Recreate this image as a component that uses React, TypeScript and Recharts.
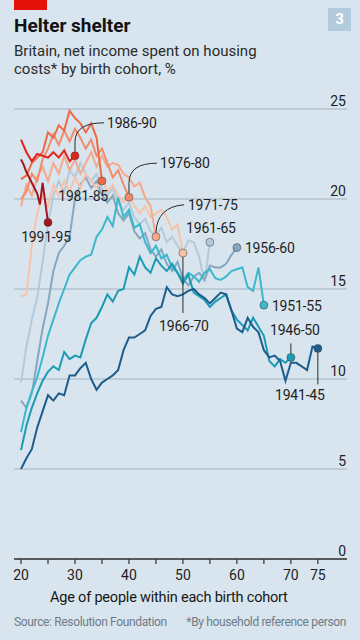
import { CartesianGrid, Line, LineChart, XAxis, YAxis } from 'recharts'

const FIRST_AGE = 20
const AGE_TICKS = [20, 25, 30, 35, 40, 45, 50, 55, 60, 65, 70, 75]
const AGE_LABELS = [20, 30, 40, 50, 60, 70, 75]
const SHARE_TICKS = [0, 5, 10, 15, 20, 25]

const ages1991_95 = [20, 20.5, 21, 21.5, 22, 22.5, 23, 23.5, 24, 24.5, 25]
const share1991_95 = [22.2, 21.9, 21.5, 21.2, 20.9, 20.6, 20.3, 19.7, 20.9, 19.8, 18.7]
const share1986_90 = [23.3, 22.6, 22.1, 22.5, 22.4, 22.3, 22.6, 22.3, 22.7, 22.1, 22.4]
const share1981_85 = [21.1, 21.3, 22.0, 22.3, 22.6, 23.7, 23.4, 24.1, 23.8, 24.9, 24.5, 24.2, 23.7, 24.2, 23.4, 21.0]
const share1976_80 = [
  20.0, 20.4, 21.4, 21.0, 22.2, 22.8, 23.6, 23.0, 23.8, 23.2, 23.9, 23.4, 22.8, 23.3, 22.4, 22.8, 22.0, 21.2, 21.6,
  20.8, 20.1,
]
const share1971_75 = [
  19.6, 20.8, 20.2, 21.2, 21.8, 21.0, 22.0, 21.4, 22.4, 21.6, 22.2, 21.4, 22.0, 22.6, 21.8, 22.4, 21.8, 22.0, 21.9,
  21.4, 21.2, 20.7, 20.9, 20.1, 19.6, 17.9,
]
const share1966_70 = [
  14.6, 14.7, 17.4, 19.2, 20.2, 19.6, 20.8, 20.2, 21.0, 20.4, 21.2, 20.6, 21.4, 21.0, 20.6, 21.2, 20.4, 20.8, 20.2,
  19.8, 20.2, 19.6, 19.2, 19.6, 19.0, 19.2, 19.4, 19.0, 18.3, 18.6, 17.0,
]
const share1961_65 = [
  9.8, 11.8, 13.3, 14.5, 16.5, 18.6, 20.2, 21.0, 20.4, 21.6, 21.2, 22.0, 21.4, 21.0, 21.4, 20.6, 20.2, 20.6, 19.8,
  19.4, 19.8, 19.0, 18.6, 18.9, 18.2, 18.0, 18.4, 17.6, 17.9, 17.4, 17.0, 17.7, 17.6, 16.8, 15.4, 17.6,
]
const share1956_60 = [
  8.8, 8.4, 9.2, 11.0, 12.8, 14.2, 16.0, 17.0, 17.4, 17.9, 20.0, 20.8, 21.2, 20.6, 21.0, 20.2, 19.8, 20.2, 19.2,
  18.8, 19.2, 18.2, 17.8, 18.1, 17.2, 16.8, 17.2, 16.4, 16.0, 16.5, 15.6, 15.2, 15.7, 15.9, 15.5, 16.3, 16.2, 16.2,
  16.4, 16.9, 17.3,
]
const share1951_55 = [
  7.05, 8.4, 9.3, 10.1, 11.2, 12.4, 13.3, 14.2, 15.0, 15.8, 16.2, 16.6, 16.8, 16.9, 17.9, 18.3, 19.0, 18.5, 20.1,
  19.0, 19.4, 18.4, 18.6, 17.6, 17.0, 17.4, 16.7, 16.9, 16.2, 15.9, 15.5, 15.9, 15.7, 15.4, 15.9, 16.1, 15.6, 15.5,
  15.7, 16.0, 16.1, 16.2, 15.1, 14.9, 16.2, 14.1,
]
const share1946_50 = [
  6.05, 7.4, 8.4, 9.2, 9.9, 10.4, 10.7, 10.5, 11.5, 11.1, 11.3, 11.2, 12.2, 13.1, 13.4, 14.0, 14.7, 14.3, 14.9,
  15.0, 16.2, 15.8, 16.8, 16.2, 15.9, 16.7, 16.3, 16.0, 16.4, 15.9, 15.3, 15.8, 14.8, 14.6, 14.4, 14.0, 14.3, 14.5,
  14.7, 13.8, 13.3, 13.0, 12.7, 13.4, 12.9, 12.4, 11.0, 10.7, 11.1, 10.9, 11.2,
]
const share1941_45 = [
  5.0, 5.6, 6.1, 7.3, 8.2, 9.1, 8.8, 9.2, 9.1, 10.2, 10.2, 10.6, 10.9, 10.0, 9.4, 9.8, 10.0, 10.2, 10.5, 11.6, 12.3,
  12.3, 12.5, 12.7, 13.5, 13.9, 14.0, 15.1, 14.7, 14.6, 14.7, 14.9, 15.0, 14.7, 14.5, 14.2, 14.5, 14.8, 14.7, 13.8,
  12.8, 12.6, 13.4, 12.9, 12.6, 11.6, 11.2, 11.3, 11.0, 9.9, 10.9, 10.9, 10.7, 10.5, 11.8, 11.7,
]

type LabelStyle = {
  dx: number
  dy: number
  anchor: 'start' | 'middle' | 'end'
  leader?: string
}

// label placement relative to each cohort's end dot
const LABELS: Record<string, LabelStyle> = {
  '1991-95': { dx: -2, dy: 20, anchor: 'middle' },
  '1986-90': { dx: 32, dy: -28, anchor: 'start', leader: 'M0,-4 V-14 Q0,-33 29,-33' },
  '1981-85': { dx: 6, dy: 20, anchor: 'end' },
  '1976-80': { dx: 31, dy: -29, anchor: 'start', leader: 'M0,-4 V-14 Q0,-34 28,-34' },
  '1971-75': { dx: 32, dy: -27, anchor: 'start', leader: 'M0,-4 Q1,-30 28,-32' },
  '1966-70': { dx: 1, dy: 78, anchor: 'middle', leader: 'M0,4 V60' },
  '1961-65': { dx: 1, dy: -9, anchor: 'middle' },
  '1956-60': { dx: 8, dy: 5, anchor: 'start' },
  '1951-55': { dx: 8, dy: 6, anchor: 'start' },
  '1946-50': { dx: 4, dy: -22, anchor: 'middle', leader: 'M0,-4 V-14' },
  '1941-45': { dx: -18, dy: 52, anchor: 'middle', leader: 'M0,4 V36' },
}

const toPoints = (values: number[], ages?: number[]) =>
  values.map((share, i) => ({ age: ages ? ages[i] : FIRST_AGE + i, share }))

// drawn in this order, so the reds end up on top
const COHORTS = [
  { name: '1961-65', color: '#b3cadb', data: toPoints(share1961_65) },
  { name: '1956-60', color: '#85a7c0', data: toPoints(share1956_60) },
  { name: '1951-55', color: '#3bb8cc', data: toPoints(share1951_55) },
  { name: '1946-50', color: '#1b9bb4', data: toPoints(share1946_50) },
  { name: '1941-45', color: '#1c5d8e', data: toPoints(share1941_45) },
  { name: '1966-70', color: '#f8c2a8', data: toPoints(share1966_70) },
  { name: '1971-75', color: '#f5a98a', data: toPoints(share1971_75) },
  { name: '1976-80', color: '#f28c68', data: toPoints(share1976_80) },
  { name: '1981-85', color: '#ee6a45', data: toPoints(share1981_85) },
  { name: '1986-90', color: '#e2231a', data: toPoints(share1986_90) },
  { name: '1991-95', color: '#a3161d', data: toPoints(share1991_95, ages1991_95) },
]

const FONT = 'Roboto, "Noto Sans", sans-serif'
const INK = '#1e1e1e'

function EndDot({
  cx,
  cy,
  index,
  last,
  name,
  color,
}: {
  cx?: number
  cy?: number
  index?: number
  last: number
  name: string
  color: string
}) {
  if (index !== last || cx == null || cy == null) {
    return <g key={`${name}-${index}`} />
  }
  const label = LABELS[name]
  return (
    <g key={`${name}-${index}`} transform={`translate(${cx},${cy})`}>
      {label.leader ? <path d={label.leader} fill="none" stroke="#2a2a2a" strokeWidth={1} /> : null}
      <circle r={4} fill={color} stroke="#3a3a3a" strokeOpacity={0.55} strokeWidth={0.9} />
      <text
        x={label.dx}
        y={label.dy}
        textAnchor={label.anchor}
        fontSize={14}
        fontFamily={FONT}
        fill={INK}
        letterSpacing={-0.2}
      >
        {name}
      </text>
    </g>
  )
}

function AgeTick({ x, y, payload }: { x?: number; y?: number; payload?: { value: number } }) {
  if (!payload || !AGE_LABELS.includes(payload.value)) return null
  return (
    <text x={x} y={(y ?? 0) + 14} textAnchor="middle" fontSize={14} fontFamily={FONT} fill={INK}>
      {payload.value}
    </text>
  )
}

function ShareTick({ y, payload }: { x?: number; y?: number; payload?: { value: number } }) {
  if (!payload) return null
  return (
    <text x={346} y={(y ?? 0) - 3} textAnchor="end" fontSize={14} fontFamily={FONT} fill={INK}>
      {payload.value}
    </text>
  )
}

export default function App() {
  return (
    <div
      style={{
        position: 'absolute',
        left: 0,
        top: 0,
        width: 360,
        height: 640,
        background: '#d8e5ee',
        fontFamily: FONT,
        overflow: 'hidden',
      }}
    >
      <div style={{ position: 'absolute', left: 14, top: 0, width: 33, height: 10, background: '#e3120b' }} />
      <div
        style={{
          position: 'absolute',
          left: 328,
          top: 8,
          width: 23,
          height: 23,
          background: '#b2cbdd',
          color: '#fff',
          fontWeight: 700,
          fontSize: 15,
          lineHeight: '23px',
          textAlign: 'center',
        }}
      >
        3
      </div>
      <div
        style={{ position: 'absolute', left: 14, top: 14, fontSize: 19, fontWeight: 700, color: '#121212', lineHeight: '24px' }}
      >
        Helter shelter
      </div>
      <div style={{ position: 'absolute', left: 14, top: 42, fontSize: 15, color: '#2b2b2b', lineHeight: '18px' }}>
        Britain, net income spent on housing
        <br />
        costs* by birth cohort, %
      </div>

      <div style={{ position: 'absolute', left: 0, top: 0 }}>
        <LineChart width={360} height={640} margin={{ top: 109, right: 13, bottom: 51, left: 14 }}>
          <CartesianGrid vertical={false} stroke="#a3b4c1" strokeWidth={1} />
          <XAxis
            type="number"
            dataKey="age"
            domain={[18.7, 80.4]}
            ticks={AGE_TICKS}
            allowDataOverflow
            height={30}
            axisLine={{ stroke: '#333', strokeWidth: 1.3 }}
            tickLine={{ stroke: '#333', strokeWidth: 1.2 }}
            tickSize={5}
            tick={<AgeTick />}
          />
          <YAxis
            type="number"
            domain={[0, 25]}
            ticks={SHARE_TICKS}
            orientation="right"
            mirror
            axisLine={false}
            tickLine={false}
            tick={<ShareTick />}
          />
          {COHORTS.map((c) => (
            <Line
              key={c.name}
              data={c.data}
              dataKey="share"
              type="linear"
              stroke={c.color}
              strokeWidth={2}
              isAnimationActive={false}
              dot={(p: any) => (
                <EndDot {...p} key={`${c.name}-${p.index}`} last={c.data.length - 1} name={c.name} color={c.color} />
              )}
              activeDot={false}
            />
          ))}
        </LineChart>
      </div>

      <div
        style={{
          position: 'absolute',
          left: 50,
          top: 589,
          fontSize: 14.5,
          letterSpacing: -0.2,
          color: '#161616',
          lineHeight: '18px',
          whiteSpace: 'nowrap',
        }}
      >
        Age of people within each birth cohort
      </div>
      <div
        style={{
          position: 'absolute',
          left: 14,
          top: 614,
          fontSize: 12,
          letterSpacing: -0.35,
          color: '#6f7c86',
          lineHeight: '16px',
          whiteSpace: 'nowrap',
        }}
      >
        Source: Resolution Foundation
      </div>
      <div
        style={{
          position: 'absolute',
          right: 14,
          top: 614,
          fontSize: 12,
          letterSpacing: -0.35,
          color: '#6f7c86',
          lineHeight: '16px',
          whiteSpace: 'nowrap',
        }}
      >
        *By household reference person
      </div>
    </div>
  )
}
